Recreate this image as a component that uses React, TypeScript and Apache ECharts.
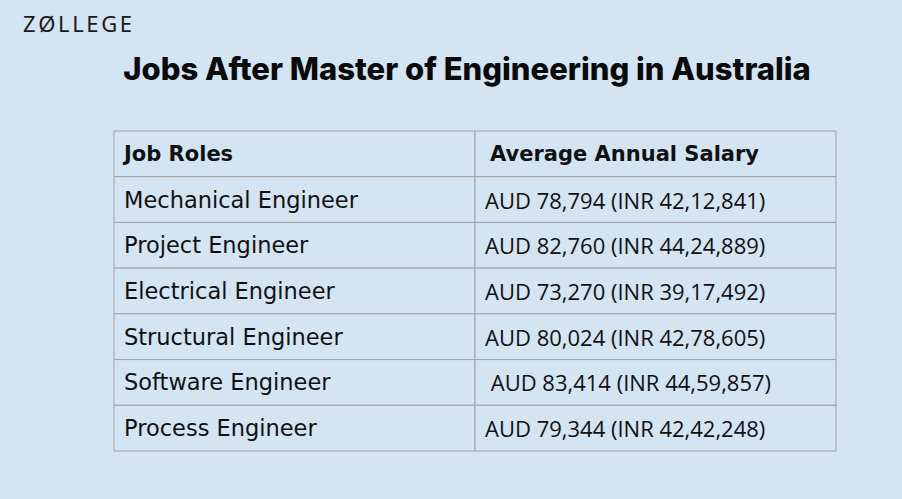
import React, { useEffect, useRef } from "react";
import * as echarts from "echarts";

const title = "Jobs After Master of Engineering in Australia";
const logoLetters = ["Z", "Ø", "L", "L", "E", "G", "E"];
const headers = ["Job Roles", "Average Annual Salary"];
const roles = [
  "Mechanical Engineer",
  "Project Engineer",
  "Electrical Engineer",
  "Structural Engineer",
  "Software Engineer",
  "Process Engineer",
];
const salaries = [
  "AUD 78,794 (INR 42,12,841)",
  "AUD 82,760 (INR 44,24,889)",
  "AUD 73,270 (INR 39,17,492)",
  "AUD 80,024 (INR 42,78,605)",
  " AUD 83,414 (INR 44,59,857)",
  "AUD 79,344 (INR 42,42,248)",
];

const BG = "#d3e4f3";
const LINE = "#a3a3a3";
const FONT = "'DejaVu Sans', sans-serif";
const LOGO_FONT = "400 22px 'Noto Sans', sans-serif";

export default function App() {
  const ref = useRef<HTMLDivElement>(null);
  useEffect(() => {
    const chart = echarts.init(ref.current!, undefined, { renderer: "svg" });
    const rows = ["h", ...roles.map((_, i) => "r" + i)];
    const data: any[] = [];
    headers.forEach((h, c) => data.push([c, 0, h, 1]));
    roles.forEach((r, i) => {
      data.push([0, i + 1, r, 0]);
      data.push([1, i + 1, salaries[i], 0]);
    });

    const ctx = document.createElement("canvas").getContext("2d")!;
    ctx.font = LOGO_FONT;
    const widths = logoLetters.map((l) => ctx.measureText(l).width);
    const natural = widths.reduce((a, b) => a + b, 0);
    const tracking = (109 - natural) / (logoLetters.length - 1);
    const logoX: number[] = [];
    let cx = 23;
    widths.forEach((w) => {
      logoX.push(cx);
      cx += w + tracking;
    });

    chart.setOption({
      animation: false,
      backgroundColor: BG,
      grid: { left: 114, right: 66, top: 131, bottom: 48 },
      xAxis: { type: "category", data: headers, show: false },
      yAxis: { type: "category", data: rows, inverse: true, show: false },
      graphic: [
        ...logoLetters.map((l, i) => ({
          type: "text",
          x: logoX[i],
          y: 23,
          style: {
            text: l,
            font: LOGO_FONT,
            fill: "#1a1a1a",
            verticalAlign: "middle",
          },
        })),
        {
          type: "text",
          x: 467,
          y: 68,
          style: {
            text: title,
            font: `800 31px Inter, sans-serif`,
            fill: "#0a0a0a",
            align: "center",
            verticalAlign: "middle",
          },
        },
      ],
      series: [
        {
          type: "custom",
          data,
          encode: { x: 0, y: 1 },
          renderItem: (params: any, api: any) => {
            const c = api.value(0);
            const r = api.value(1);
            const p = api.coord([c, r]);
            const s = api.size([1, 1]);
            const item = data[params.dataIndex];
            const x0 = p[0] - s[0] / 2;
            const y0 = p[1] - s[1] / 2;
            const bold = item[3] === 1;
            const font = bold
              ? `bold 21px ${FONT}`
              : c === 0
              ? `22.5px ${FONT}`
              : `22px 'Open Sans', sans-serif`;
            return {
              type: "group",
              children: [
                {
                  type: "rect",
                  shape: { x: x0, y: y0, width: s[0], height: s[1] },
                  style: { fill: BG, stroke: LINE, lineWidth: 1 },
                },
                {
                  type: "text",
                  x: x0 + (c === 0 ? 10 : bold ? 15 : 10),
                  y: p[1],
                  style: {
                    text: item[2],
                    font,
                    fill: "#111",
                    align: "left",
                    verticalAlign: "middle",
                  },
                },
              ],
            };
          },
        },
      ],
    });
    return () => chart.dispose();
  }, []);
  return (
    <div
      ref={ref}
      style={{ width: 902, height: 499, position: "fixed", left: 0, top: 0 }}
    />
  );
}
